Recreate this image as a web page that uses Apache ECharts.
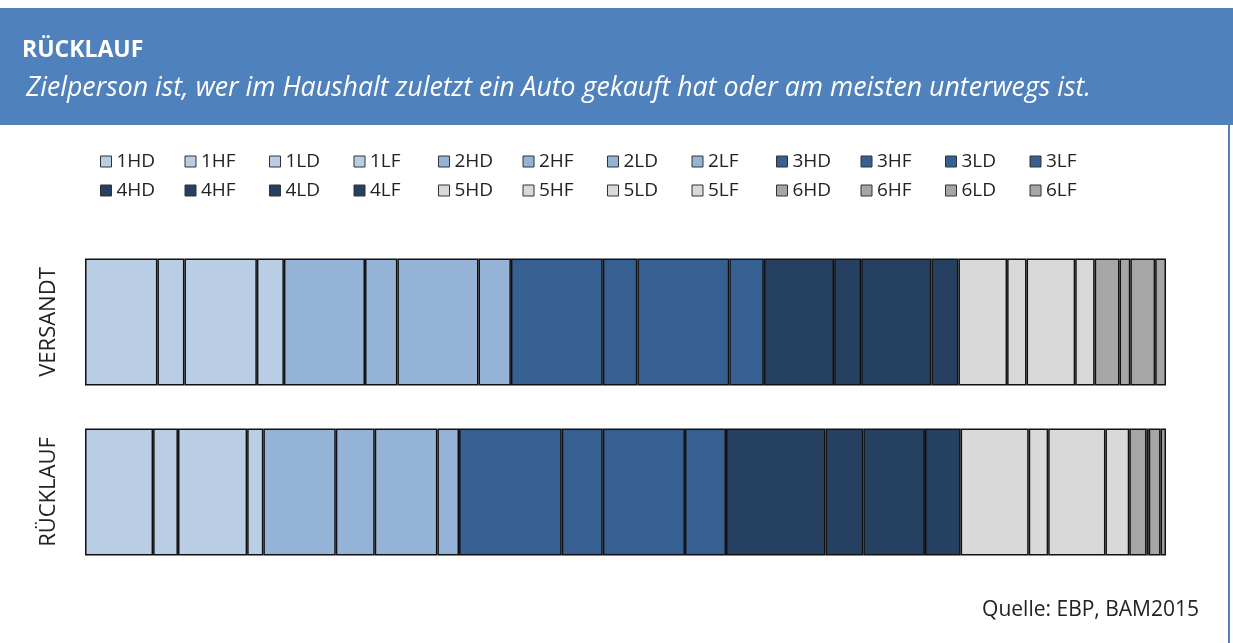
<!DOCTYPE html>
<html>
<head>
<meta charset="utf-8">
<script src="https://cdn.jsdelivr.net/npm/echarts@6/dist/echarts.min.js"></script>
<style>
  html, body { margin: 0; padding: 0; background: #fff; }
  #main { width: 1233px; height: 643px; }
</style>
</head>
<body>
<div id="main"></div>
<script>
// Kategorien (von oben nach unten)
var categories = ["VERSANDT", "RÜCKLAUF"];
// Segmente in Stapelreihenfolge
var segments = [
  "1HD", "1HF", "1LD", "1LF", "2HD", "2HF", "2LD", "2LF",
  "3HD", "3HF", "3LD", "3LF", "4HD", "4HF", "4LD", "4LF",
  "5HD", "5HF", "5LD", "5LF", "6HD", "6HF", "6LD", "6LF"
];
// Anteile in %
var versandt = [
  6.7, 2.5, 6.7, 2.5, 7.5, 3.0, 7.5, 3.0,
  8.5, 3.2, 8.5, 3.2, 6.5, 2.5, 6.5, 2.5,
  4.5, 1.8, 4.5, 1.8, 2.3, 1.0, 2.3, 1.0
];
var ruecklauf = [
  6.3, 2.3, 6.4, 1.5, 6.7, 3.6, 5.8, 2.0,
  9.5, 3.8, 7.6, 3.8, 9.2, 3.5, 5.7, 3.3,
  6.3, 1.8, 5.3, 2.2, 1.6, 0.2, 1.1, 0.5
];
// Farbe je Gruppe 1..6
var groupColors = ["#B9CDE5", "#95B3D7", "#376092", "#254061", "#D9D9D9", "#A6A6A6"];

var font = "'Open Sans', 'Noto Sans', sans-serif";
var chart = echarts.init(document.getElementById("main"));

var series = segments.map(function (name, i) {
  return {
    name: name,
    type: "bar",
    stack: "total",
    barWidth: 127,
    data: [versandt[i], ruecklauf[i]],
    itemStyle: {
      color: groupColors[parseInt(name.charAt(0), 10) - 1],
      borderColor: "#111",
      borderWidth: 1.5
    },
    emphasis: { disabled: true }
  };
});

var option = {
  animation: false,
  textStyle: { fontFamily: font },
  title: [
    {
      text: "RÜCKLAUF",
      left: 17, top: 34,
      textStyle: { color: "#fff", fontSize: 23, fontWeight: "bold", fontFamily: font }
    },
    {
      text: "Zielperson ist, wer im Haushalt zuletzt ein Auto gekauft hat oder am meisten unterwegs ist.",
      left: 21, top: 70,
      textStyle: { color: "#fff", fontSize: 26.7, fontStyle: "italic", fontWeight: "normal", fontFamily: font }
    },
    {
      text: "Quelle: EBP, BAM2015",
      right: 29, top: 595,
      textStyle: { color: "#222", fontSize: 21, fontWeight: "normal", fontFamily: font }
    }
  ],
  graphic: [
    { type: "rect", z: -10, shape: { x: 0, y: 8, width: 1233, height: 117 }, style: { fill: "#4F81BD" } },
    { type: "rect", z: -10, shape: { x: 1228, y: 125, width: 2, height: 518 }, style: { fill: "#4F81BD" } }
  ],
  legend: {
    data: segments,
    left: 95, top: 147,
    width: 1010,
    orient: "horizontal",
    itemWidth: 11, itemHeight: 11,
    itemGap: 10,
    icon: "rect",
    itemStyle: { borderColor: "#333", borderWidth: 1 },
    textStyle: { fontSize: 19, color: "#222", width: 58, height: 15, lineHeight: 15, padding: [0, 0, 0, 0] },
    selectedMode: false
  },
  grid: { left: 85, right: 67, top: 237, bottom: 66 },
  xAxis: { type: "value", min: 0, max: 100, show: false },
  yAxis: {
    type: "category",
    data: categories,
    inverse: true,
    axisLine: { show: false },
    axisTick: { show: false },
    axisLabel: { rotate: 90, margin: 25, fontSize: 22, color: "#222" }
  },
  series: series
};

chart.setOption(option);
</script>
</body>
</html>
